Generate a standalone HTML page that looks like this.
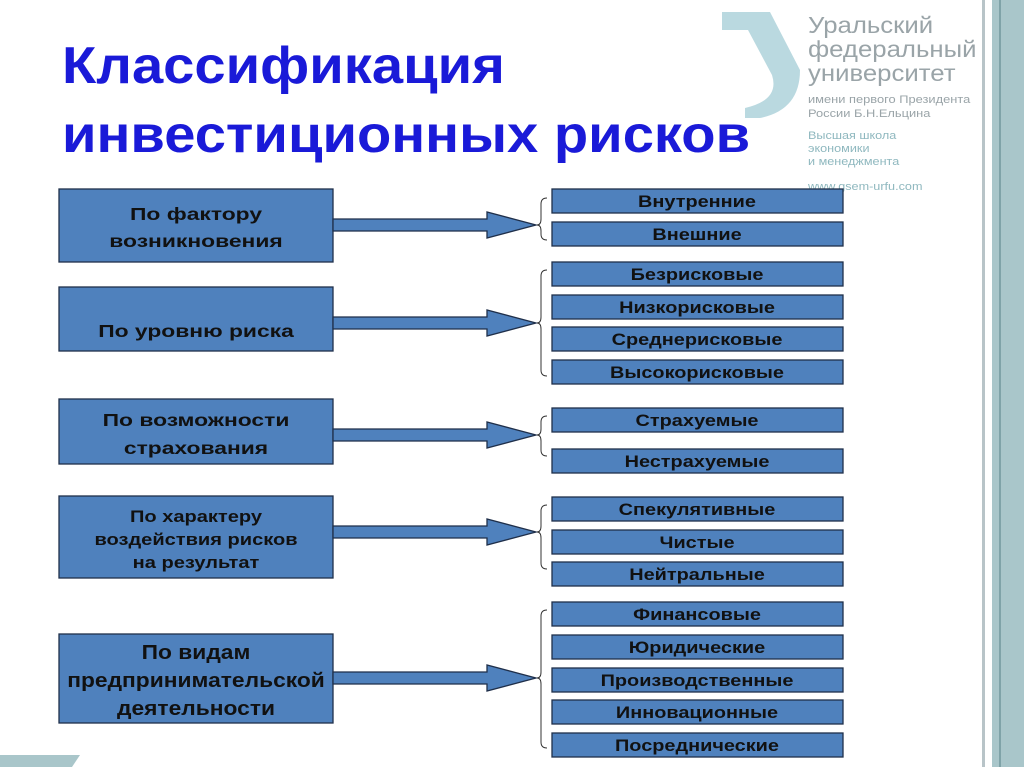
<!DOCTYPE html>
<html><head><meta charset="utf-8"><style>
body{margin:0;width:1024px;height:767px;overflow:hidden;background:#fff;font-family:"Liberation Sans",sans-serif}
svg{position:absolute;left:0;top:0}
</style></head><body>
<svg width="1024" height="767" xmlns="http://www.w3.org/2000/svg" font-family="Liberation Sans, sans-serif">
<rect x="982" y="0" width="3" height="767" fill="#b8c4c8"/>
<rect x="992" y="0" width="32" height="767" fill="#a9c6ca"/>
<rect x="999" y="0" width="2" height="767" fill="#7fa3a8"/>
<polygon points="0,755 80,755 72,767 0,767" fill="#a9c6ca"/>
<path d="M722,12 L770,12 L800,70 Q800,110 760,118 L745,118 L745,108 Q780,100 772,75 L748,30 L722,30 Z" fill="#a9cfd8" opacity="0.8"/>
<g fill="#9aa4a8" transform="translate(808,0) scale(1.12,1)">
<text x="0" y="33" font-size="23">Уральский</text>
<text x="0" y="57" font-size="23">федеральный</text>
<text x="0" y="81" font-size="23">университет</text>
<text x="0" y="103" font-size="11.5">имени первого Президента</text>
<text x="0" y="117" font-size="11.5">России Б.Н.Ельцина</text>
</g>
<g fill="#8fb8bf" font-size="11.5" transform="translate(808,0) scale(1.1,1)"><text x="0" y="139">Высшая школа</text><text x="0" y="152">экономики</text><text x="0" y="165">и менеджмента</text><text x="0" y="190">www.gsem-urfu.com</text></g>
<g fill="#1a1ad8" font-weight="bold" font-size="52" transform="translate(62,0) scale(1.08,1)"><text x="0" y="83">Классификация</text><text x="0" y="152">инвестиционных рисков</text></g>
<g fill="#4f81bd" stroke="#1f2f4a" stroke-width="1.3">
<rect x="59" y="189" width="274" height="73"/>
<rect x="59" y="287" width="274" height="64"/>
<rect x="59" y="399" width="274" height="65"/>
<rect x="59" y="496" width="274" height="82"/>
<rect x="59" y="634" width="274" height="89"/>
<polygon points="333,219 487,219 487,212 536,225 487,238 487,231 333,231"/>
<polygon points="333,317 487,317 487,310 536,323 487,336 487,329 333,329"/>
<polygon points="333,429 487,429 487,422 536,435 487,448 487,441 333,441"/>
<polygon points="333,526 487,526 487,519 536,532 487,545 487,538 333,538"/>
<polygon points="333,672 487,672 487,665 536,678 487,691 487,684 333,684"/>
<g>
<rect x="552" y="189" width="291" height="24"/><rect x="552" y="222" width="291" height="24"/>
<rect x="552" y="262" width="291" height="24"/><rect x="552" y="295" width="291" height="24"/>
<rect x="552" y="327" width="291" height="24"/><rect x="552" y="360" width="291" height="24"/>
<rect x="552" y="408" width="291" height="24"/><rect x="552" y="449" width="291" height="24"/>
<rect x="552" y="497" width="291" height="24"/><rect x="552" y="530" width="291" height="24"/>
<rect x="552" y="562" width="291" height="24"/><rect x="552" y="602" width="291" height="24"/>
<rect x="552" y="635" width="291" height="24"/><rect x="552" y="668" width="291" height="24"/>
<rect x="552" y="700" width="291" height="24"/><rect x="552" y="733" width="291" height="24"/>
</g></g>
<g fill="none" stroke="#333" stroke-width="1">
<path d="M547,198 Q541,198 541,204 L541,219 Q541,225 537,225 Q541,225 541,231 L541,234 Q541,240 547,240"/>
<path d="M547,270 Q541,270 541,276 L541,317 Q541,323 537,323 Q541,323 541,329 L541,370 Q541,376 547,376"/>
<path d="M547,416 Q541,416 541,422 L541,429 Q541,435 537,435 Q541,435 541,441 L541,450 Q541,456 547,456"/>
<path d="M547,505 Q541,505 541,511 L541,526 Q541,532 537,532 Q541,532 541,538 L541,563 Q541,569 547,569"/>
<path d="M547,610 Q541,610 541,616 L541,672 Q541,678 537,678 Q541,678 541,684 L541,742 Q541,748 547,748"/>
</g>
<g fill="#111" font-weight="bold" text-anchor="middle">
<g font-size="18" transform="translate(196,0) scale(1.27,1)">
<text x="0" y="220">По фактору</text><text x="0" y="247">возникновения</text>
<text x="0" y="337">По уровню риска</text>
<text x="0" y="426">По возможности</text><text x="0" y="454">страхования</text>
</g>
<g font-size="17" transform="translate(196,0) scale(1.18,1)">
<text x="0" y="522">По характеру</text><text x="0" y="545">воздействия рисков</text><text x="0" y="568">на результат</text>
</g>
<g font-size="20" transform="translate(196,0) scale(1.14,1)">
<text x="0" y="659">По видам</text><text x="0" y="687">предпринимательской</text><text x="0" y="715">деятельности</text>
</g>
<g font-size="17" transform="translate(697,0) scale(1.17,1)">
<text x="0" y="207">Внутренние</text><text x="0" y="240">Внешние</text>
<text x="0" y="280">Безрисковые</text><text x="0" y="313">Низкорисковые</text>
<text x="0" y="345">Среднерисковые</text><text x="0" y="378">Высокорисковые</text>
<text x="0" y="426">Страхуемые</text><text x="0" y="467">Нестрахуемые</text>
<text x="0" y="515">Спекулятивные</text><text x="0" y="548">Чистые</text>
<text x="0" y="580">Нейтральные</text><text x="0" y="620">Финансовые</text>
<text x="0" y="653">Юридические</text><text x="0" y="686">Производственные</text>
<text x="0" y="718">Инновационные</text><text x="0" y="751">Посреднические</text>
</g></g>
</svg>
</body></html>
